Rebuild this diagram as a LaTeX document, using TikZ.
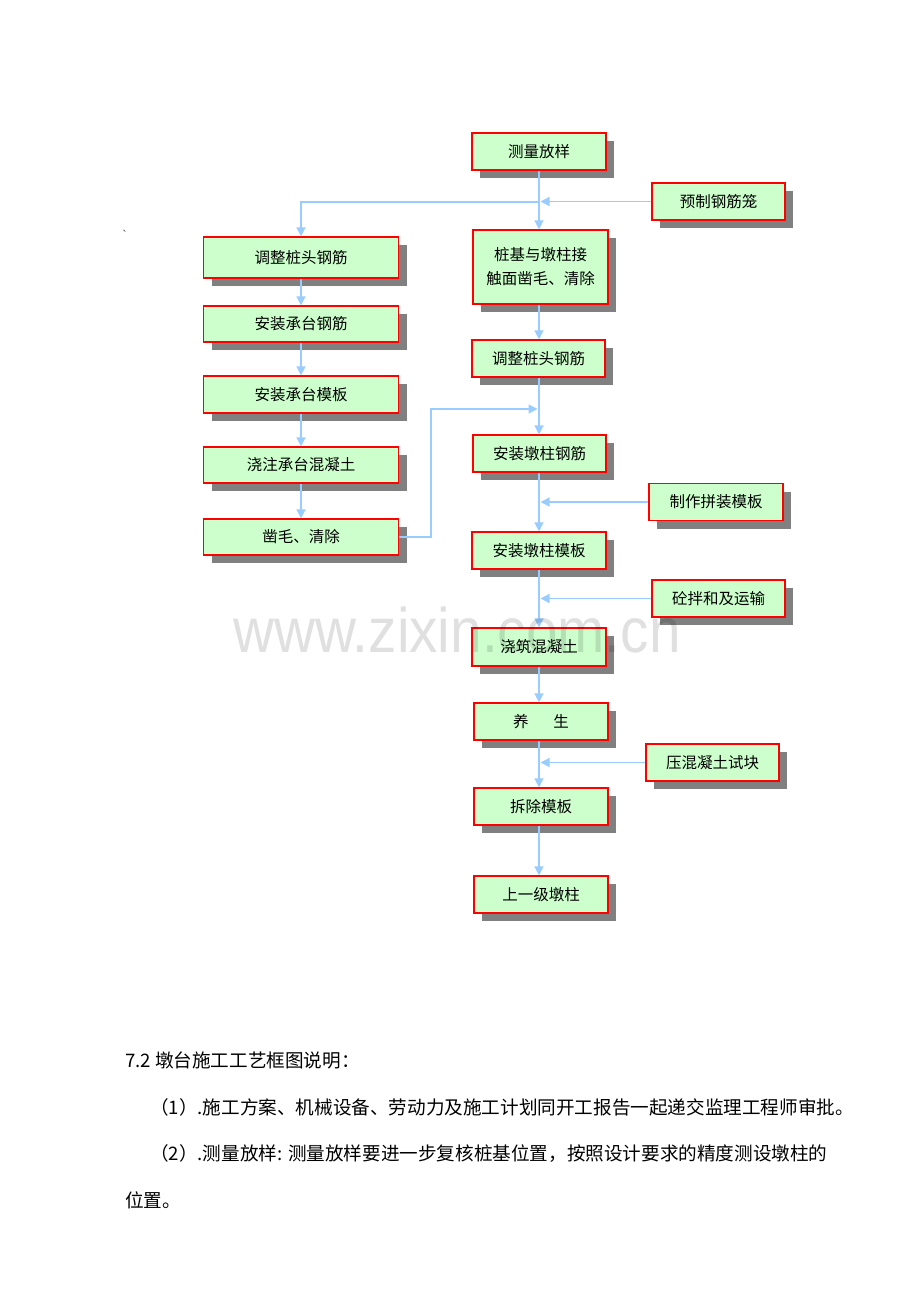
\documentclass[tikz,border=0pt]{standalone}
\usepackage{fontspec}
\newfontfamily\cjk{Noto Sans CJK SC}
\newfontfamily\wmfont{Liberation Sans}
\usetikzlibrary{arrows.meta,shadows}
\definecolor{boxgreen}{HTML}{CCFFCC}
\definecolor{lineblue}{HTML}{99CCFF}
\definecolor{shgray}{HTML}{808080}
\begin{document}
\begin{tikzpicture}[x=1pt,y=-1pt,
 box/.style={draw=red, line width=1.2pt, fill=boxgreen, inner sep=0pt, align=center,
   font=\cjk\fontsize{15.5}{24}\selectfont,
   general shadow={fill=shgray, shadow xshift=8pt, shadow yshift=-8pt}},
 rbox/.style={box, minimum width=134pt, minimum height=37pt},
 lbox/.style={box, minimum width=195pt, minimum height=36pt},
 conn/.style={draw=lineblue, line width=1.4pt},
 arr/.style={conn, -{Triangle[length=9pt,width=9pt]}},
 body/.style={anchor=base west, inner sep=0pt, font=\cjk\fontsize{18.6}{24}\selectfont}]
\useasboundingbox (0,0) rectangle (920,1302);

% right column
\node[rbox] (m1) at (539,151.5) {测量放样};
\node[rbox, minimum width=133pt] (pre) at (718.5,201.5) {预制钢筋笼};
\node[rbox, minimum width=135pt, minimum height=74pt] (zj) at (540.5,267) {桩基与墩柱接\\触面凿毛、清除};
\node[rbox, minimum width=133pt] (r2) at (538.5,358.5) {调整桩头钢筋};
\node[rbox, minimum width=133pt] (r3) at (539.5,453.5) {安装墩柱钢筋};
\node[rbox] (zz) at (716,502) {制作拼装模板};
\node[rbox] (r4) at (539,550.5) {安装墩柱模板};
\node[rbox, minimum width=133pt] (tb) at (718.5,598.5) {砼拌和及运输};
\node[rbox, minimum height=38pt] (r5) at (539,647) {浇筑混凝土};
\node[rbox] (r6) at (541,721.5) {养\hspace{1.6em}生};
\node[rbox, minimum width=133pt] (yk) at (712.5,762.5) {压混凝土试块};
\node[rbox] (r7) at (541,806.5) {拆除模板};
\node[rbox] (r8) at (541,894.5) {上一级墩柱};

% left column
\node[lbox, minimum height=41pt] (l1) at (301,257.5) {调整桩头钢筋};
\node[lbox] (l2) at (301,324) {安装承台钢筋};
\node[lbox, minimum height=37pt] (l3) at (301,394.5) {安装承台模板};
\node[lbox] (l4) at (301,465) {浇注承台混凝土};
\node[lbox] (l5) at (301,537) {凿毛、清除};

% connectors
\coordinate (X) at (539,0);
\coordinate (J1) at (539,202);
\coordinate (K) at (431,409);
\coordinate (K2) at (539,409);
\draw[arr] (m1.south -| X) -- (zj.north -| X);
\draw[arr] (J1) -| (l1.north);
\draw[arr, shorten >=1.5pt] (pre.west) -- (pre.west -| X);
\draw[arr] (zj.south -| X) -- (r2.north -| X);
\draw[arr] (r2.south -| X) -- (r3.north -| X);
\draw[arr, shorten >=1.5pt] (l5.east) -| (K) -- (K2);
\draw[arr] (r3.south -| X) -- (r4.north -| X);
\draw[arr, shorten >=1.5pt] (zz.west) -- (zz.west -| X);
\draw[arr] (r4.south -| X) -- (r5.north -| X);
\draw[arr, shorten >=1.5pt] (tb.west) -- (tb.west -| X);
\draw[arr] (r5.south -| X) -- (r6.north -| X);
\draw[arr] (r6.south -| X) -- (r7.north -| X);
\draw[arr, shorten >=1.5pt] (yk.west) -- (yk.west -| X);
\draw[arr] (r7.south -| X) -- (r8.north -| X);
\draw[arr] (l1.south) -- (l2.north);
\draw[arr] (l2.south) -- (l3.north);
\draw[arr] (l3.south) -- (l4.north);
\draw[arr] (l4.south) -- (l5.north);

% stray mark
\node[inner sep=0pt, font=\fontsize{12}{12}\selectfont] (tick) at (125,234) {\`{}};

% body text
\node[body] (t1) at (125,1067) {7.2 墩台施工工艺框图说明：};
\node[body] (t2) at (150,1114) {（1）.施工方案、机械设备、劳动力及施工计划同开工报告一起递交监理工程师审批。};
\node[body] (t3) at (150,1160) {（2）.测量放样: 测量放样要进一步复核桩基位置，按照设计要求的精度测设墩柱的};
\node[body] (t4) at (125,1207) {位置。};

% watermark
\node[anchor=base west, inner sep=0pt, text=black, text opacity=0.12, font=\wmfont\fontsize{63}{63}\selectfont] (wm) at (233,652) {\scalebox{0.9}[1]{www.zixin.com.cn}};
\end{tikzpicture}
\end{document}
